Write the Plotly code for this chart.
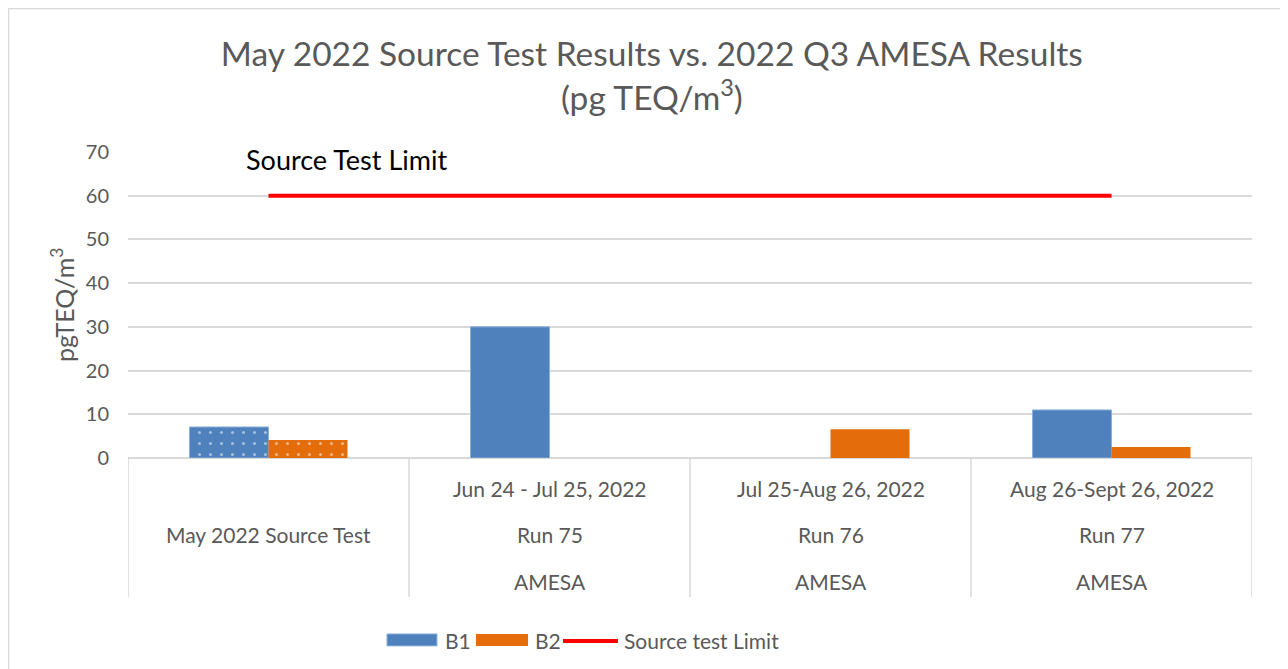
import plotly.graph_objects as go

# ---- data ----
run_labels = ["May 2022 Source Test", "Run 75", "Run 76", "Run 77"]
date_labels = ["", "Jun 24 - Jul 25, 2022", "Jul 25-Aug 26, 2022", "Aug 26-Sept 26, 2022"]
group_labels = ["", "AMESA", "AMESA", "AMESA"]
b1_values = [7.1, 30.0, None, 11.0]
b2_values = [4.1, None, 6.6, 2.5]
limit_values = [60, 60, 60, 60]
patterns = [".", "", "", ""]

BLUE = "#4F81BD"
ORANGE = "#E46C0A"
RED = "#FF0000"
GRID = "#D9D9D9"
TXT = "#595959"
FONT = "Lato"

fig = go.Figure()
fig.add_trace(go.Bar(
    x=run_labels, y=b1_values, name="B1",
    marker=dict(color=BLUE, line=dict(color="#8DB0DA", width=1),
                pattern=dict(shape=patterns, fgcolor="white", size=11, solidity=0.06)),
))
fig.add_trace(go.Bar(
    x=run_labels, y=b2_values, name="B2",
    marker=dict(color=ORANGE, line=dict(width=0),
                pattern=dict(shape=patterns, fgcolor="white", size=11, solidity=0.06)),
))
fig.add_trace(go.Scatter(
    x=run_labels, y=limit_values, name="Source test Limit", mode="lines",
    line=dict(color=RED, width=4),
))

annotations = []
# Limit label
annotations.append(dict(x=run_labels[0], y=limit_values[0], xref="x", yref="y",
                        text="Source Test Limit", showarrow=False, xanchor="left", yanchor="middle",
                        xshift=-25, yshift=36, font=dict(family=FONT, size=27, color="black")))
# y-axis title
annotations.append(dict(x=-0.0587, y=0.5, xref="paper", yref="paper", text="pgTEQ/m<sup>3</sup>",
                        textangle=-90, showarrow=False, xanchor="center", yanchor="middle",
                        font=dict(family=FONT, size=25, color=TXT)))
# multi-level category labels
row_y = [-0.1013, -0.2516, -0.402]
for i, cat in enumerate(run_labels):
    for ry, lab in zip(row_y, [date_labels[i], run_labels[i], group_labels[i]]):
        if lab:
            annotations.append(dict(x=cat, y=ry, xref="x", yref="paper", text=lab,
                                    xanchor="center", yanchor="middle", showarrow=False,
                                    font=dict(family=FONT, size=21, color=TXT)))

shapes = []
for k in range(len(run_labels) + 1):
    shapes.append(dict(type="line", xref="x", yref="paper", x0=k - 0.5, x1=k - 0.5,
                       y0=0, y1=-0.454, line=dict(color=GRID, width=1.5)))
# outer chart border
shapes.append(dict(type="rect", xref="paper", yref="paper", x0=-0.1063, x1=1.0258,
                   y0=-0.75, y1=1.469, line=dict(color=GRID, width=1.5)))

# custom legend
leg_y = -0.595
shapes.append(dict(type="rect", xref="paper", yref="paper", x0=0.2304, x1=0.2749,
                   y0=-0.614, y1=-0.575, fillcolor=BLUE, line=dict(color="#8DB0DA", width=1)))
shapes.append(dict(type="rect", xref="paper", yref="paper", x0=0.3096, x1=0.3559,
                   y0=-0.614, y1=-0.575, fillcolor=ORANGE, line=dict(width=0)))
shapes.append(dict(type="line", xref="paper", yref="paper", x0=0.3870, x1=0.4359,
                   y0=-0.598, y1=-0.598, line=dict(color=RED, width=4)))
for xx, t in [(0.2802, "B1"), (0.3603, "B2"), (0.4395, "Source test Limit")]:
    annotations.append(dict(x=xx, y=leg_y, xref="paper", yref="paper", text=t, xanchor="left",
                            yanchor="middle", showarrow=False,
                            font=dict(family=FONT, size=21, color=TXT)))

fig.update_layout(
    width=1280, height=661,
    margin=dict(l=120, r=36, t=144, b=211),
    paper_bgcolor="white", plot_bgcolor="white",
    barmode="group", bargap=0.4377, bargroupgap=0,
    showlegend=False,
    title=dict(text="May 2022 Source Test Results vs. 2022 Q3 AMESA Results<br>(pg TEQ/m<sup>3</sup>)",
               x=0.503, xref="container", xanchor="center",
               y=0.912, yref="container", yanchor="top",
               font=dict(family=FONT, size=33.5, color=TXT)),
    font=dict(family=FONT, color=TXT),
    annotations=annotations,
    shapes=shapes,
)
fig.update_xaxes(type="category", range=[-0.5, 3.5], showticklabels=False,
                 showgrid=False, zeroline=False, showline=False)
fig.update_yaxes(range=[0, 70], dtick=10, showgrid=True, gridcolor=GRID, gridwidth=1.5,
                 zeroline=True, zerolinecolor=GRID, zerolinewidth=1.5, showline=False,
                 tickfont=dict(family=FONT, size=20, color=TXT), ticklabelstandoff=18)

fig.write_html("out.html")
